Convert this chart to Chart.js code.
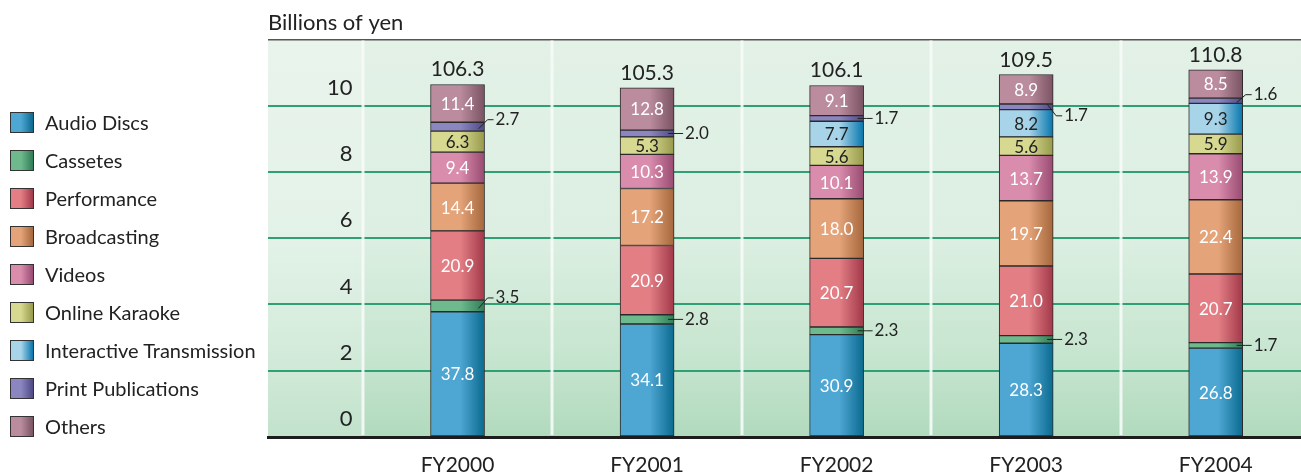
<!DOCTYPE html>
<html>
<head>
<meta charset="utf-8">
<script src="https://cdn.jsdelivr.net/npm/chart.js@4/dist/chart.umd.min.js"></script>
<style>
  html, body { margin: 0; padding: 0; background: #fff; overflow: hidden; }
  #wrap { position: relative; width: 1301px; height: 476px; }
  #legend { position: absolute; left: 10px; top: 112px; font-family: Lato, sans-serif; font-size: 20px; color: #222; }
  .item { position: relative; height: 38px; }
  .box { position: absolute; left: 0; top: 0; width: 24px; height: 21px; box-sizing: border-box; border: 1px solid #333; }
  .lab { position: absolute; left: 35px; top: -1px; line-height: 23px; white-space: nowrap; }
</style>
</head>
<body>
<div id="wrap">
  <canvas id="c" width="1301" height="476"></canvas>
  <div id="legend"></div>
</div>
<script>
// fiscal years
const years = ['FY2000', 'FY2001', 'FY2002', 'FY2003', 'FY2004'];
// billions of yen, bottom of stack first
const audioDiscs   = [37.8, 34.1, 30.9, 28.3, 26.8];
const cassetes     = [3.5, 2.8, 2.3, 2.3, 1.7];
const performance  = [20.9, 20.9, 20.7, 21.0, 20.7];
const broadcasting = [14.4, 17.2, 18.0, 19.7, 22.4];
const videos       = [9.4, 10.3, 10.1, 13.7, 13.9];
const karaoke      = [6.3, 5.3, 5.6, 5.6, 5.9];
const interactive  = [null, null, 7.7, 8.2, 9.3];
const printPubs    = [2.7, 2.0, 1.7, 1.7, 1.6];
const others       = [11.4, 12.8, 9.1, 8.9, 8.5];
const totals       = [106.3, 105.3, 106.1, 109.5, 110.8];
const yTicks       = [0, 2, 4, 6, 8, 10];

const series = [
  { name: 'Audio Discs', data: audioDiscs, c1: '#4ea6d3', c2: '#0a6a8f', dark: false },
  { name: 'Cassetes', data: cassetes, c1: '#6fba8d', c2: '#2f7d57', dark: false, callout: [-8, 0, 0, 0, 0] },
  { name: 'Performance', data: performance, c1: '#e27e84', c2: '#a23849', dark: false },
  { name: 'Broadcasting', data: broadcasting, c1: '#e4a379', c2: '#a5673c', dark: false },
  { name: 'Videos', data: videos, c1: '#da8cad', c2: '#984a71', dark: false },
  { name: 'Online Karaoke', data: karaoke, c1: '#d6d98f', c2: '#979a4b', dark: true },
  { name: 'Interactive Transmission', data: interactive, c1: '#a8d4e9', c2: '#0776ad', dark: true },
  { name: 'Print Publications', data: printPubs, c1: '#8b86c0', c2: '#4f4886', dark: false, callout: [-7, 0, 0, 9, -6] },
  { name: 'Others', data: others, c1: '#ba8c9d', c2: '#7a5363', dark: false }
];

const FONT = 'Lato, sans-serif';

function barFill(s) {
  return function (ctx) {
    const chart = ctx.chart;
    if (ctx.type !== 'data' || !chart.chartArea) return s.c1;
    const x = chart.scales.x.getPixelForValue(ctx.dataIndex + 1);
    const g = chart.ctx.createLinearGradient(x - 27, 0, x + 27, 0);
    g.addColorStop(0, s.c1);
    g.addColorStop(0.55, s.c1);
    g.addColorStop(1, s.c2);
    return g;
  };
}

// legend on the left
const legendEl = document.getElementById('legend');
series.forEach(s => {
  const it = document.createElement('div');
  it.className = 'item';
  it.innerHTML = '<span class="box" style="background:linear-gradient(to right,' + s.c1 + ' 0%,' + s.c1 + ' 45%,' + s.c2 + ' 100%)"></span><span class="lab">' + s.name + '</span>';
  legendEl.appendChild(it);
});

const bgPlugin = {
  id: 'bg',
  beforeDraw(chart) {
    const { ctx, chartArea: a, scales } = chart;
    const g = ctx.createLinearGradient(0, a.top, 0, a.bottom);
    g.addColorStop(0, '#e3f1e7');
    g.addColorStop(0.5, '#dcefe2');
    g.addColorStop(0.8, '#c6e5cf');
    g.addColorStop(1, '#b1dabd');
    ctx.save();
    ctx.fillStyle = g;
    ctx.fillRect(a.left, a.top, a.right - a.left, a.bottom - a.top);
    ctx.fillStyle = 'rgba(255,255,255,0.22)';
    ctx.fillRect(a.left, a.top, scales.x.getPixelForValue(0.5) - a.left, a.bottom - a.top);
    ctx.restore();
  },
  beforeDatasetsDraw(chart) {
    const { ctx, chartArea: a, scales } = chart;
    ctx.save();
    ctx.strokeStyle = 'rgba(246,251,247,0.9)';
    ctx.lineWidth = 3;
    for (let k = 0; k < years.length; k++) {
      const x = Math.round(scales.x.getPixelForValue(k + 0.5));
      ctx.beginPath();
      ctx.moveTo(x, a.top + 1);
      ctx.lineTo(x, a.bottom - 2);
      ctx.stroke();
    }
    ctx.restore();
  }
};

const labelPlugin = {
  id: 'labels',
  afterDatasetsDraw(chart) {
    const ctx = chart.ctx;
    ctx.save();
    series.forEach((s, di) => {
      const meta = chart.getDatasetMeta(di);
      meta.data.forEach((el, i) => {
        const v = s.data[i];
        if (v == null) return;
        const yc = (el.y + el.base) / 2;
        const right = el.x + el.width / 2;
        if (s.callout) {
          const dy = s.callout[i];
          ctx.strokeStyle = '#222';
          ctx.lineWidth = 1;
          ctx.beginPath();
          ctx.moveTo(right - 6, yc + (dy ? dy * -0.3 : 0));
          ctx.lineTo(right + 3, yc + dy);
          ctx.lineTo(right + 9, yc + dy);
          ctx.stroke();
          ctx.fillStyle = '#222';
          ctx.font = '17px ' + FONT;
          ctx.textAlign = 'left';
          ctx.textBaseline = 'middle';
          ctx.fillText(v.toFixed(1), right + 11, yc + dy);
        } else {
          ctx.fillStyle = s.dark ? '#222' : '#fff';
          ctx.font = '17px ' + FONT;
          ctx.textAlign = 'center';
          ctx.textBaseline = 'middle';
          ctx.fillText(v.toFixed(1), el.x, yc + 1);
        }
      });
    });
    const top = chart.getDatasetMeta(series.length - 1);
    top.data.forEach((el, i) => {
      ctx.fillStyle = '#222';
      ctx.font = '21px ' + FONT;
      ctx.textAlign = 'center';
      ctx.textBaseline = 'alphabetic';
      ctx.fillText(totals[i].toFixed(1), el.x, el.y - 8);
    });
    ctx.restore();
  }
};

new Chart(document.getElementById('c'), {
  type: 'bar',
  data: {
    datasets: series.map(s => ({
      label: s.name,
      data: s.data.map((v, i) => ({ x: i + 1, y: v })),
      backgroundColor: barFill(s),
      borderColor: '#2a2a2a',
      borderWidth: 1,
      borderSkipped: false,
      barThickness: 54
    }))
  },
  options: {
    responsive: false,
    animation: false,
    events: [],
    layout: { padding: { left: 268, right: 0, top: 0, bottom: 0 } },
    scales: {
      x: {
        type: 'linear',
        stacked: true,
        offset: false,
        min: 0,
        max: 5.45,
        afterBuildTicks: sc => { sc.ticks = years.map((y, i) => ({ value: i + 1 })); },
        afterFit: sc => { sc.height = 39; },
        ticks: {
          callback: v => years[v - 1],
          autoSkip: false,
          maxRotation: 0,
          padding: 16,
          color: '#222',
          font: { family: FONT, size: 21 }
        },
        grid: { display: false, drawTicks: false },
        border: { display: true, color: '#1c1c1c', width: 3 }
      },
      y: {
        stacked: true,
        min: 0,
        max: 120,
        afterBuildTicks: sc => { sc.ticks = yTicks.map(t => ({ value: t * 10 })).concat([{ value: 120 }]); },
        afterFit: sc => { sc.width = 0; sc.paddingTop = 0; sc.paddingBottom = 0; },
        ticks: {
          callback: v => (v === 120 ? '' : String(v / 10)),
          mirror: true,
          crossAlign: 'far',
          padding: 59,
          labelOffset: -18,
          color: '#222',
          font: { family: FONT, size: 22 }
        },
        grid: {
          drawTicks: false,
          color: c => (c.tick && c.tick.value === 120 ? '#555' : c.tick && c.tick.value === 0 ? 'rgba(0,0,0,0)' : '#2f9f76'),
          lineWidth: c => (c.tick && c.tick.value === 120 ? 1.5 : 2)
        },
        border: { display: false }
      }
    },
    plugins: {
      legend: { display: false },
      tooltip: { enabled: false },
      title: {
        display: true,
        text: 'Billions of yen',
        align: 'start',
        fullSize: false,
        color: '#222',
        font: { family: FONT, size: 22, weight: 'normal' },
        padding: { top: 10, bottom: 3 }
      }
    }
  },
  plugins: [bgPlugin, labelPlugin]
});
</script>
</body>
</html>
